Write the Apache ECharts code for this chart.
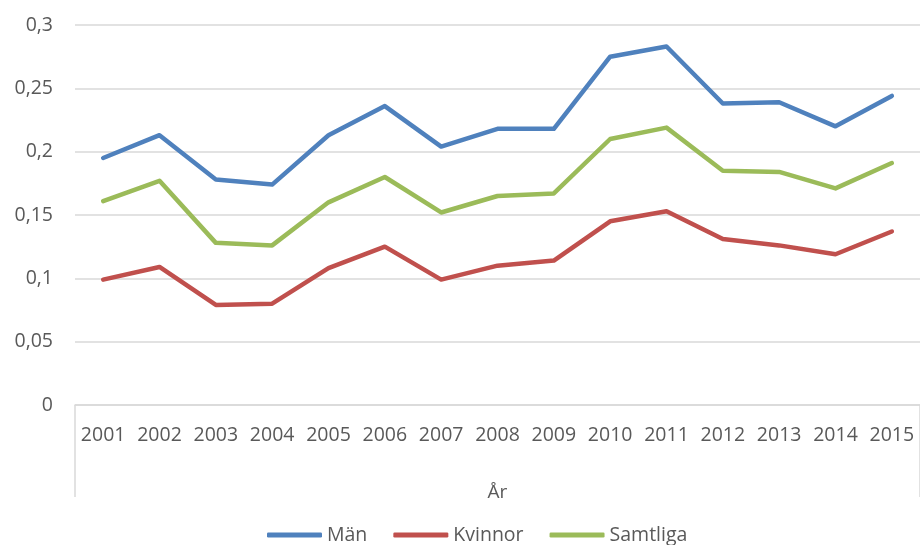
<!DOCTYPE html>
<html>
<head>
<meta charset="utf-8">
<script src="https://cdn.jsdelivr.net/npm/echarts@6/dist/echarts.min.js"></script>
<style>
  html, body { margin: 0; padding: 0; background: #fff; }
  #chart { width: 920px; height: 545px; }
</style>
</head>
<body>
<div id="chart"></div>
<script>
// År
const years = ['2001', '2002', '2003', '2004', '2005', '2006', '2007', '2008',
  '2009', '2010', '2011', '2012', '2013', '2014', '2015']
// Män
const man = [0.195, 0.213, 0.178, 0.174, 0.213, 0.236, 0.204, 0.218,
  0.218, 0.275, 0.283, 0.238, 0.239, 0.220, 0.244]
// Kvinnor
const kvinnor = [0.099, 0.109, 0.079, 0.080, 0.108, 0.125, 0.099, 0.110,
  0.114, 0.145, 0.153, 0.131, 0.126, 0.119, 0.137]
// Samtliga
const samtliga = [0.161, 0.177, 0.128, 0.126, 0.160, 0.180, 0.152, 0.165,
  0.167, 0.210, 0.219, 0.185, 0.184, 0.171, 0.191]

const textColor = '#595959'
const fontFamily = 'Open Sans, sans-serif'

const chart = echarts.init(document.getElementById('chart'))

const mkSeries = (name, data, color) => ({
  name,
  type: 'line',
  data,
  symbol: 'none',
  lineStyle: { width: 4.5, color, cap: 'round', join: 'round' },
  itemStyle: { color }
})

const option = {
  animation: false,
  grid: { left: 75, top: 25, width: 850, height: 380 },
  xAxis: {
    type: 'category',
    data: years,
    boundaryGap: true,
    name: 'År',
    nameLocation: 'middle',
    nameGap: 78,
    nameTextStyle: { color: textColor, fontSize: 19, fontFamily },
    axisLine: { lineStyle: { color: '#d9d9d9', width: 1.5 } },
    axisTick: {
      show: true,
      length: 92,
      interval: (i) => i === 0,
      lineStyle: { color: '#d9d9d9', width: 1.5 }
    },
    axisLabel: { color: textColor, fontSize: 19.5, fontFamily, margin: 20, interval: 0 }
  },
  yAxis: {
    type: 'value',
    min: 0,
    max: 0.3,
    interval: 0.05,
    axisLine: { show: false },
    axisTick: { show: false },
    splitLine: { lineStyle: { color: '#d9d9d9', width: 1.5 } },
    axisLabel: {
      color: textColor,
      fontSize: 19.5,
      fontFamily,
      margin: 22,
      formatter: (v) => String(+v.toFixed(2)).replace('.', ',')
    }
  },
  legend: {
    top: 520,
    left: 262,
    icon: 'roundRect',
    itemWidth: 55,
    itemHeight: 5,
    itemGap: 26,
    textStyle: { color: textColor, fontSize: 19.5, fontFamily }
  },
  series: [
    mkSeries('Män', man, '#4f81bd'),
    mkSeries('Kvinnor', kvinnor, '#c0504d'),
    mkSeries('Samtliga', samtliga, '#9bbb59')
  ]
}
chart.setOption(option)
</script>
</body>
</html>
